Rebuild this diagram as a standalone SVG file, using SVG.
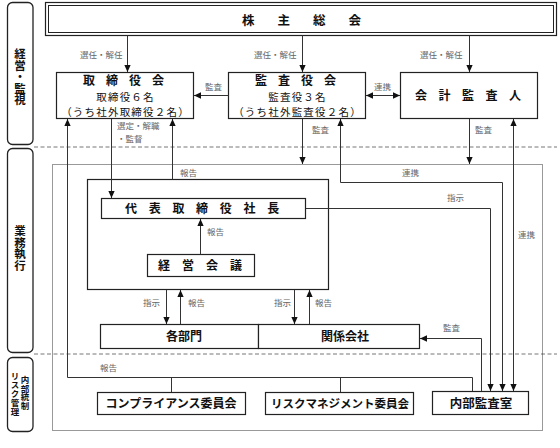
<svg xmlns="http://www.w3.org/2000/svg" width="560" height="448" viewBox="0 0 560 448">
<defs>
<style>
text{font-family:"Noto Sans CJK JP","Noto Sans",sans-serif;fill:#111}
.box{fill:#fff;stroke:#222;stroke-width:1.2}
.side{fill:#fff;stroke:#222;stroke-width:1.3}
.ln{fill:none;stroke:#333;stroke-width:1}
.lbl{font-size:8.5px;fill:#666}
.ttl{font-size:12.5px;font-weight:bold}
.ttl2{font-size:12px;font-weight:bold}
.sub{font-size:10.5px;text-anchor:middle;letter-spacing:1.2px}
.g{font-size:12px;font-weight:bold;text-anchor:middle}
.vt{writing-mode:vertical-rl;text-anchor:middle;font-weight:bold}
</style>
<marker id="ah" viewBox="0 0 10 10" refX="10" refY="5" markerWidth="7" markerHeight="7" markerUnits="userSpaceOnUse" orient="auto-start-reverse">
<path d="M0,0.5 L10,5 L0,9.5 z" fill="#111"/>
</marker>
</defs>
<rect width="560" height="448" fill="#fff"/>

<g id="sections">
<line x1="34" y1="147" x2="557" y2="147" stroke="#777" stroke-dasharray="4,2.5"/>
<line x1="34" y1="354" x2="557" y2="354" stroke="#777" stroke-dasharray="4,2.5"/>
<rect x="52.5" y="164.5" width="490" height="266" fill="none" stroke="#333" stroke-dasharray="1,1"/>
</g>

<g id="side-keiei">
<rect class="side" x="7.5" y="2.5" width="25.5" height="142" rx="5"/>
<text class="vt" x="20" y="77" style="font-size:11.5px">経営・監視</text>
</g>
<g id="side-gyomu">
<rect class="side" x="7.5" y="148.5" width="25.5" height="204" rx="5"/>
<text class="vt" x="20" y="248" style="font-size:11.5px">業務執行</text>
</g>
<g id="side-naibu">
<rect class="side" x="7.5" y="357.5" width="25.5" height="74" rx="5"/>
<text class="vt" x="25" y="393" style="font-size:8.5px">内部統制</text>
<text class="vt" x="15" y="394" style="font-size:8.5px" letter-spacing="0.5">リスク管理</text>
</g>

<g id="kabunushi">
<rect class="box" x="45.5" y="2.5" width="511" height="33"/>
<rect fill="none" stroke="#222" stroke-width="1" x="48.5" y="5.5" width="505" height="27"/>
<text class="ttl" x="242" y="24.5" letter-spacing="23">株主総会</text>
</g>

<g id="torishimariyakukai">
<rect class="box" x="56.5" y="72.5" width="137" height="46"/>
<text class="ttl2" x="83" y="85" letter-spacing="11">取締役会</text>
<text class="sub" x="125.5" y="100.5">取締役６名</text>
<text class="sub" x="125.5" y="115.5">（うち社外取締役２名）</text>
</g>

<g id="kansayakukai">
<rect class="box" x="228.5" y="72.5" width="137" height="46"/>
<text class="ttl2" x="255" y="85" letter-spacing="11">監査役会</text>
<text class="sub" x="297.5" y="100.5">監査役３名</text>
<text class="sub" x="297.5" y="115.5">（うち社外監査役２名）</text>
</g>

<g id="kaikeikansanin">
<rect class="box" x="400.5" y="72.5" width="137" height="46"/>
<text class="ttl2" x="415" y="100" letter-spacing="11.5">会計監査人</text>
</g>

<g id="keiei-box">
<rect fill="none" stroke="#222" stroke-width="1.2" x="87.5" y="179.5" width="241" height="110"/>
</g>

<g id="daihyo">
<rect class="box" x="101.5" y="198.5" width="204" height="20"/>
<text class="ttl2" x="125" y="213" letter-spacing="11.7">代表取締役社長</text>
</g>

<g id="keieikaigi">
<rect class="box" x="147.5" y="254.5" width="107" height="22"/>
<text class="ttl2" x="158" y="270" letter-spacing="12">経営会議</text>
</g>

<g id="kakubumon">
<rect class="box" x="100.5" y="324.5" width="158" height="24"/>
<text class="g" x="184" y="341">各部門</text>
</g>
<g id="kankeigaisha">
<rect class="box" x="258.5" y="324.5" width="161" height="24"/>
<text class="g" x="345" y="341">関係会社</text>
</g>

<g id="compliance">
<rect class="box" x="97.5" y="392.5" width="148" height="22"/>
<text class="g" x="171" y="408">コンプライアンス委員会</text>
</g>
<g id="risk">
<rect class="box" x="265.5" y="392.5" width="148" height="22"/>
<text class="g" x="340" y="408" style="font-size:11.5px">リスクマネジメント委員会</text>
</g>
<g id="naibukansa">
<rect class="box" x="432.5" y="391.5" width="96" height="23"/>
<text class="g" x="481" y="407.5" style="font-size:12.5px">内部監査室</text>
</g>

<g id="connectors">
<line class="ln" x1="127.5" y1="35.5" x2="127.5" y2="72" marker-end="url(#ah)"/>
<line class="ln" x1="302.5" y1="35.5" x2="302.5" y2="72" marker-end="url(#ah)"/>
<line class="ln" x1="469.5" y1="35.5" x2="469.5" y2="72" marker-end="url(#ah)"/>
<line class="ln" x1="228.5" y1="95.5" x2="194" y2="95.5" marker-end="url(#ah)"/>
<line class="ln" x1="366" y1="95.5" x2="400" y2="95.5" marker-start="url(#ah)" marker-end="url(#ah)"/>
<polyline class="ln" points="472.5,391 472.5,377.5 67.5,377.5 67.5,119" marker-end="url(#ah)"/>
<line class="ln" x1="171.5" y1="377.5" x2="171.5" y2="392"/>
<line class="ln" x1="340.5" y1="377.5" x2="340.5" y2="392"/>
<line class="ln" x1="111.5" y1="119" x2="111.5" y2="198" marker-end="url(#ah)"/>
<line class="ln" x1="172.5" y1="179.5" x2="172.5" y2="119" marker-end="url(#ah)"/>
<line class="ln" x1="302.5" y1="119" x2="302.5" y2="164" marker-end="url(#ah)"/>
<polyline class="ln" points="502.5,391 502.5,182.5 340.5,182.5 340.5,119" marker-start="url(#ah)" marker-end="url(#ah)"/>
<line class="ln" x1="469.5" y1="119" x2="469.5" y2="164" marker-end="url(#ah)"/>
<line class="ln" x1="513.5" y1="119" x2="513.5" y2="391" marker-start="url(#ah)" marker-end="url(#ah)"/>
<polyline class="ln" points="306,208.5 490.5,208.5 490.5,391" marker-end="url(#ah)"/>
<line class="ln" x1="200.5" y1="254.5" x2="200.5" y2="219" marker-end="url(#ah)"/>
<line class="ln" x1="166.5" y1="290" x2="166.5" y2="324" marker-end="url(#ah)"/>
<line class="ln" x1="180.5" y1="324" x2="180.5" y2="290" marker-end="url(#ah)"/>
<line class="ln" x1="294.5" y1="290" x2="294.5" y2="324" marker-end="url(#ah)"/>
<line class="ln" x1="309.5" y1="324" x2="309.5" y2="290" marker-end="url(#ah)"/>
<polyline class="ln" points="481.5,391 481.5,338.5 420,338.5" marker-end="url(#ah)"/>
</g>

<g id="labels">
<text class="lbl" x="80" y="58">選任・解任</text>
<text class="lbl" x="254" y="58">選任・解任</text>
<text class="lbl" x="420" y="58">選任・解任</text>
<text class="lbl" x="205" y="90">監査</text>
<text class="lbl" x="374" y="90">連携</text>
<text class="lbl" x="117" y="129">選定・解職</text>
<text class="lbl" x="117" y="142">・監督</text>
<text class="lbl" x="312" y="133">監査</text>
<text class="lbl" x="475" y="133">監査</text>
<text class="lbl" x="180" y="176">報告</text>
<text class="lbl" x="402" y="176">連携</text>
<text class="lbl" x="447" y="201">指示</text>
<text class="lbl" x="518" y="238">連携</text>
<text class="lbl" x="207" y="235">報告</text>
<text class="lbl" x="143" y="306">指示</text>
<text class="lbl" x="188" y="306">報告</text>
<text class="lbl" x="274" y="306">指示</text>
<text class="lbl" x="315" y="306">報告</text>
<text class="lbl" x="443" y="331">監査</text>
<text class="lbl" x="100" y="371">報告</text>
</g>
</svg>
